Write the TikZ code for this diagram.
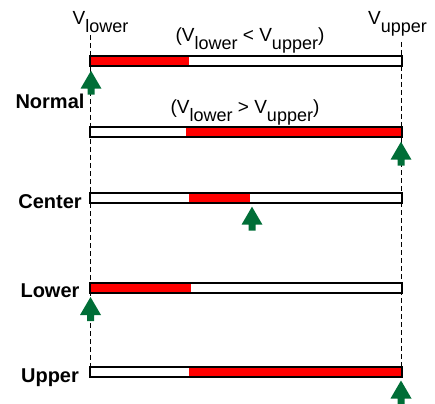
\documentclass[tikz,border=0pt]{standalone}
\usepackage{fontspec}
\setmainfont{Liberation Sans}
\definecolor{arrowgreen}{RGB}{0,110,55}
\newcommand{\volt}[1]{V\raisebox{-8pt}{\fontsize{18}{20}\selectfont #1}}

\begin{document}
\begin{tikzpicture}[
    x=1pt,y=-1pt,
    guide/.style={draw=black,line width=1pt,dash pattern=on 5pt off 3pt},
    bar/.style={draw=black,line width=2pt},
    level/.style={fill=red},
    pointer/.style={fill=arrowgreen},
    mode/.style={font=\fontsize{20}{24}\selectfont\bfseries,inner sep=0pt,anchor=base},
    volt/.style={font=\fontsize{19}{22}\selectfont,inner sep=0pt}
]
\useasboundingbox (0,0) rectangle (435,403);
\coordinate (lowtop) at (90.5,35);
\coordinate (lowend) at (90.5,366);
\coordinate (uptop) at (401.5,42);
\coordinate (upend) at (401.5,366);
\draw[guide] (lowtop) -- (lowend);
\draw[guide] (uptop) -- (upend);
\node[volt,anchor=base west] (vlow) at (72.5,25) {\volt{lower}};
\node[volt,anchor=base west] (vup) at (368,25) {\volt{upper}};
\node[volt,anchor=base] (less) at (250,41.7) {(\volt{lower} < \volt{upper})};
\node[volt,anchor=base] (more) at (245,113.3) {(\volt{lower} > \volt{upper})};
\node[mode] (normal) at (50,108.3) {Normal};
\node[mode] (center) at (50,208) {Center};
\node[mode] (lower) at (50,297.5) {Lower};
\node[mode] (upper) at (50,382) {Upper};
\foreach \y/\a/\b in {61.5/90/189, 132/186/402, 197.5/189/250, 288/90/191, 372/189/402} {
  \fill[white] (90,\y-5) rectangle (402,\y+5);
  \fill[level] (\a,\y-5) rectangle (\b,\y+5);
  \draw[bar] (90,\y-5) rectangle (402,\y+5);
}
\foreach \x/\y in {91/70.7, 401/141.7, 252/206.7, 90.5/297, 401/380.5}
  \fill[pointer] (\x,\y) -- ++(10.5,18) -- ++(-7,0) -- ++(0,6) -- ++(-7,0) -- ++(0,-6) -- ++(-7,0) -- cycle;
\end{tikzpicture}
\end{document}
